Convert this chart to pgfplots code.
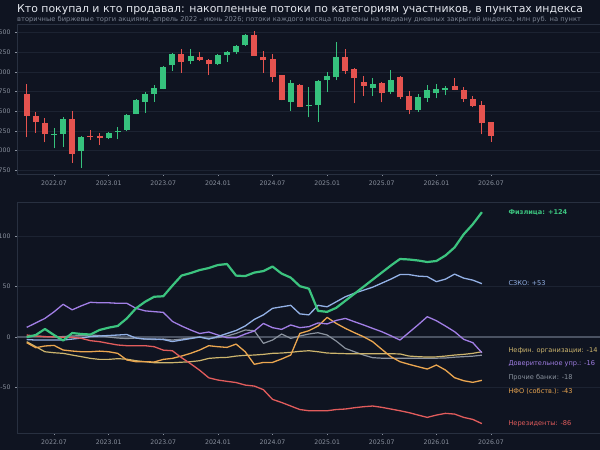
\documentclass[border=0pt]{standalone}
\usepackage{fontspec}
\setmainfont{DejaVu Sans}
\usepackage{pgfplots}
\usepackage{pgfplotstable}
\pgfplotsset{compat=1.18}

\definecolor{bg}{HTML}{0F1421}
\definecolor{framec}{HTML}{283040}
\definecolor{gridc}{HTML}{1C2332}
\definecolor{tickc}{HTML}{8A919E}
\definecolor{zeroc}{HTML}{4A5262}
\definecolor{titlec}{HTML}{E4E7EE}
\definecolor{subc}{HTML}{7D8594}
\definecolor{cup}{HTML}{36C27D}
\definecolor{cdown}{HTML}{E5534F}
\definecolor{cfiz}{HTML}{3CC47F}
\definecolor{cszko}{HTML}{93B1E6}
\definecolor{cnefin}{HTML}{CDB56D}
\definecolor{cdover}{HTML}{A27FE6}
\definecolor{cproch}{HTML}{8A929E}
\definecolor{cnfo}{HTML}{EBA650}
\definecolor{cnerez}{HTML}{E25C5C}

% monthly candles of the index, m = months since 2022-01
\pgfplotstableread{
m o h l c
6 1200 1281 1026 1210
7 1213 1421 1048 1400
9 992 1183 780 1166
12 1154 1230 1145 1226
13 1236 1294 1141 1254
14 1260 1468 1247 1451
15 1468 1659 1460 1638
16 1621 1748 1481 1719
17 1719 1829 1621 1799
18 1787 2075 1778 2067
19 2084 2237 2016 2228
21 2135 2288 2101 2203
24 2097 2224 2088 2215
25 2211 2271 2131 2258
26 2249 2347 2232 2334
27 2339 2483 2330 2470
32 1621 1893 1506 1863
34 1560 1804 1422 1578
35 1579 1897 1367 1885
36 1893 2003 1749 1948
37 1931 2377 1897 2194
41 1791 1918 1697 1846
43 1749 2020 1719 1897
46 1515 1715 1494 1680
47 1672 1834 1621 1770
48 1727 1842 1663 1783
49 1765 1821 1706 1800
}\candlesup

\pgfplotstableread{
m o h l c
3 1719 1842 1166 1443
4 1443 1494 1226 1358
5 1349 1417 1103 1205
8 1400 1502 844 958
10 1180 1260 1132 1170
11 1190 1217 1069 1155
20 2228 2292 1990 2131
22 2194 2254 2135 2156
23 2156 2160 1961 2097
28 2470 2521 2207 2207
29 2194 2266 1990 2147
30 2160 2228 1876 1935
31 1956 1961 1638 1642
33 1834 1842 1549 1558
38 2186 2288 1973 2012
39 2033 2046 1601 1918
40 1871 1952 1697 1825
42 1855 1876 1612 1727
44 1931 1948 1655 1676
45 1693 1761 1460 1519
50 1825 1927 1770 1774
51 1770 1812 1621 1655
52 1655 1697 1553 1562
53 1579 1630 1205 1345
54 1366 1366 1111 1188
}\candlesdown

% cumulative flows by participant group, index points
\pgfplotstableread{
m fiz szko nefin dover proch nfo nerez
3 0 -2.5 -4.6 9.6 0 -5.6 2
4 2 -3 -9.6 14 1 -10.6 1
5 8 -3 -14.6 18.5 0.5 -8.9 0.3
6 2 -3 -15.6 25 0 -8.3 0.3
7 -3.5 -3 -16.2 32.5 0.5 -12.9 -0.3
8 4 -2 -17.9 27 1 -13.9 -0.3
9 3 -1 -19.5 31 1.5 -14.6 -1.3
10 2.5 0.5 -21.2 34.5 2 -14.6 -3.6
11 7 1 -22.2 34 1.5 -14 -4.6
12 9.3 1.5 -22.2 34 0 -14.6 -6.3
13 11 2 -21.5 33.5 -1 -16.2 -7.9
14 18.5 2.5 -22 33.5 -1.5 -22.8 -8.6
15 28.5 -1 -23.5 28.5 -1 -24.5 -8.6
16 35 -2 -24.5 26 -2 -24.5 -8.6
17 40 -2 -25.5 25.2 -2.5 -24.8 -9.6
18 40.5 -2.5 -25.5 24.5 -2 -22.2 -13
19 51 -4.5 -25.5 15.5 -3 -21.2 -13.6
20 61 -3 -25 11 -2 -18.9 -20.5
21 63.5 -1.5 -24.5 7 -1 -16.2 -26.5
22 66.5 0 -23.5 3.5 0 -12.9 -33
23 68.5 -2 -21.2 5 -1.5 -8.6 -40.5
24 71.5 0.5 -20.5 2 -0.5 -9.6 -42.7
25 72.5 3.5 -20.2 -0.7 1 -10.3 -44
26 61 6.5 -18.9 -0.7 3.6 -7 -45.2
27 60.5 11 -18.2 3 7 -14.6 -47.7
28 64 17.5 -17.9 6 6.3 -27.1 -48.7
29 65.5 22 -17.2 13.5 -6.3 -25.2 -52.3
30 70 28.5 -16.2 9.3 -3 -25.2 -61.9
31 63 30 -15.9 7.6 3 -21.8 -65
32 59 31.5 -15.2 12 -1.3 -17.9 -68.5
33 50.5 23 -14.2 9.3 1 3.6 -72
34 48 22 -13.6 10.3 3 6.3 -73.2
35 26 31.5 -14.6 14 4.3 10.9 -73.2
36 25 30 -15.9 13 2 19.5 -73.2
37 29 35 -16.2 16.5 -4 13.5 -72
38 36 40 -16.5 18.5 -11.3 8.6 -71.5
39 43 43.5 -16.6 15.2 -14.6 4.3 -70.2
40 50 46.5 -16.6 12 -17.9 0.3 -69.2
41 57 49.5 -16.6 8.6 -20.5 -4.6 -68.5
42 64 53.5 -16.6 5.3 -21 -12.2 -69.8
43 71 57.5 -16.6 1.3 -21 -19.5 -71.5
44 77.5 62 -16.8 -3 -21 -24.5 -73.2
45 77 62 -18.9 4.6 -21 -27.1 -75.1
46 76 60.5 -19.5 12.2 -21 -29.5 -77.5
47 74.5 60 -19.9 20.2 -21 -31.8 -79.8
48 75.5 55 -19.7 16.2 -21 -27.8 -77.5
49 81 57.5 -18.9 10.9 -20.8 -32.8 -75.8
50 89 62.5 -17.9 5.3 -20 -40.4 -76.5
51 102 58.5 -17.2 -2.3 -19.5 -43.4 -79.8
52 112 56.5 -16.2 -5.6 -19 -45 -81.8
53 124 53 -14.6 -15.6 -18 -43 -86
}\flows

\pgfplotsset{
  darkaxis/.style={
    anchor=south west,
    x=9.104pt,
    xmin=1.934, xmax=68,
    axis background/.style={fill=bg},
    axis line style={framec, line width=0.6pt},
    tick style={tickc, line width=0.5pt},
    tick align=outside,
    major tick length=2pt,
    xtick pos=bottom, ytick pos=left,
    xtick={6,12,18,24,30,36,42,48,54},
    xticklabels={2022.07,2023.01,2023.07,2024.01,2024.07,2025.01,2025.07,2026.01,2026.07},
    tick label style={font=\fontsize{6.2}{7}\selectfont, text=tickc},
    /pgf/number format/assume math mode=true,
    /pgf/number format/1000 sep={},
    ymajorgrids,
    grid style={gridc, line width=0.6pt},
    xticklabel style={yshift=-1pt},
    yticklabel style={xshift=-1pt},
  },
  candle/.style={only marks, mark=none, mark size=0pt, forget plot,
    error bars/.cd, y dir=plus, y explicit, error mark=none},
}

\begin{document}
\begin{tikzpicture}
\fill[bg] (0pt,0pt) rectangle (600pt,450pt);

\node[anchor=base west, text=titlec, font=\fontsize{10.9}{13}\selectfont, inner sep=0pt]
  at (17pt,437pt) {Кто покупал и кто продавал: накопленные потоки по категориям участников, в пунктах индекса};
\node[anchor=base west, text=subc, font=\fontsize{6.7}{7.5}\selectfont, inner sep=0pt]
  at (17pt,428pt) {вторичные биржевые торги акциями, апрель 2022 - июнь 2026; потоки каждого месяца поделены на медиану дневных закрытий индекса, млн руб. на пункт};

% index candles
\begin{axis}[darkaxis,
  at={(17pt,276pt)},
  y=0.0785pt, ymin=700, ymax=2611,
  ytick={750,1000,1250,1500,1750,2000,2250,2500},
]
\addplot[cup, candle, error bar style={cup, line width=0.9pt}]
  table[x=m, y=l, y error expr=\thisrow{h}-\thisrow{l}] {\candlesup};
\addplot[cdown, candle, error bar style={cdown, line width=0.9pt}]
  table[x=m, y=l, y error expr=\thisrow{h}-\thisrow{l}] {\candlesdown};
\addplot[cup, candle, error bar style={cup, line width=6pt}]
  table[x=m, y=o, y error expr=\thisrow{c}-\thisrow{o}] {\candlesup};
\addplot[cdown, candle, error bar style={cdown, line width=6pt}]
  table[x=m, y=c, y error expr=\thisrow{o}-\thisrow{c}] {\candlesdown};
\end{axis}

% cumulative flows
\begin{axis}[darkaxis,
  at={(17pt,17pt)},
  y=1.007pt, ymin=-95.3, ymax=134,
  ytick={-50,50,100},
  extra y ticks={0},
  extra y tick style={grid style={zeroc, line width=1.1pt}},
  every axis plot/.append style={line join=round, mark=none},
]
\addplot[cproch, line width=1.2pt] table[x=m, y=proch] {\flows};
\addplot[cnefin, line width=1.2pt] table[x=m, y=nefin] {\flows};
\addplot[cnfo, line width=1.3pt] table[x=m, y=nfo] {\flows};
\addplot[cdover, line width=1.3pt] table[x=m, y=dover] {\flows};
\addplot[cszko, line width=1.3pt] table[x=m, y=szko] {\flows};
\addplot[cnerez, line width=1.3pt] table[x=m, y=nerez] {\flows};
\addplot[cfiz, line width=2.2pt] table[x=m, y=fiz] {\flows};

\begin{scope}[every node/.style={anchor=west, inner sep=0pt, font=\fontsize{6.6}{7.5}\selectfont}]
\node[text=cfiz, font=\fontsize{6.6}{7.5}\selectfont\bfseries] at (axis cs:55.9,124) {Физлица: +124};
\node[text=cszko] at (axis cs:55.9,53.3) {СЗКО: +53};
\node[text=cnefin] at (axis cs:55.9,-13.2) {Нефин. организации: -14};
\node[text=cdover] at (axis cs:55.9,-26.5) {Доверительное упр.: -16};
\node[text=cproch] at (axis cs:55.9,-40) {Прочие банки: -18};
\node[text=cnfo] at (axis cs:55.9,-53.9) {НФО (собств.): -43};
\node[text=cnerez] at (axis cs:55.9,-86.1) {Нерезиденты: -86};
\end{scope}
\end{axis}

\pgfresetboundingbox
\useasboundingbox (0pt,0pt) rectangle (600pt,450pt);
\end{tikzpicture}
\end{document}
